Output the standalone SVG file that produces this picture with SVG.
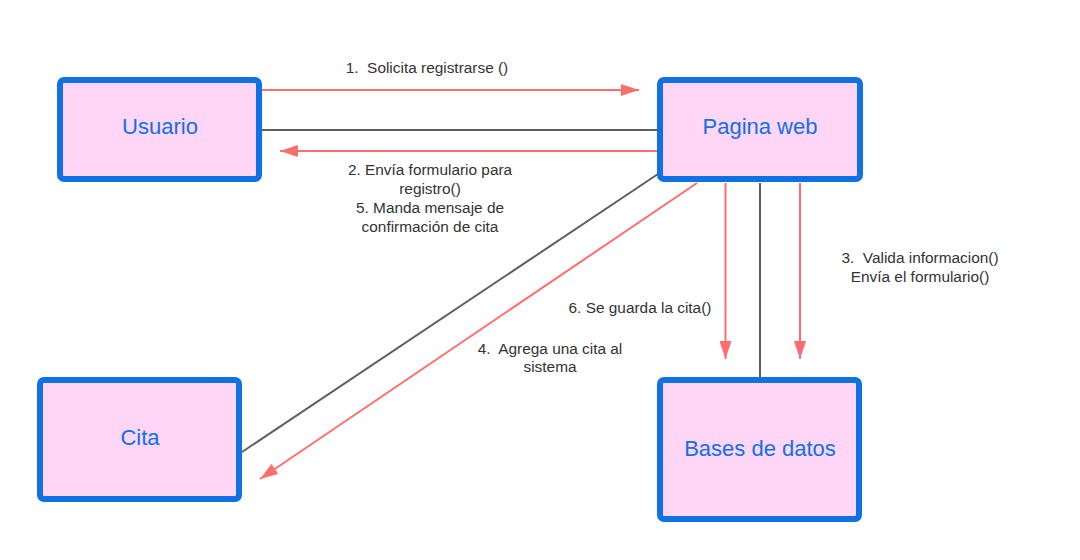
<svg xmlns="http://www.w3.org/2000/svg" width="1080" height="560" viewBox="0 0 1080 560">
<style>
.box{fill:#ffd6f6;stroke:#1071e5;stroke-width:6}
.nt{font-family:"Liberation Sans",Arial,sans-serif;font-size:22px;fill:#1071e5;text-anchor:middle}
.lb{font-family:"Liberation Sans",Arial,sans-serif;font-size:15.4px;fill:#333333;text-anchor:middle}
.red{stroke:#ff6d6d;stroke-width:2;fill:none}
.blk{stroke:#5e5e5e;stroke-width:2;fill:none}
</style>
<defs>
<marker id="ahl" markerWidth="18" markerHeight="12" refX="18" refY="6" orient="auto" markerUnits="userSpaceOnUse" viewBox="0 0 18 12">
<path d="M0,0 L18,6 L0,12 Z" fill="#ff6d6d"/>
</marker>
</defs>
<rect width="1080" height="560" fill="#ffffff"/>
<g id="connectors">
<line class="red" x1="262" y1="90" x2="639" y2="90" marker-end="url(#ahl)"/>
<line class="blk" x1="262" y1="130" x2="657" y2="130"/>
<line class="red" x1="657" y1="151" x2="280" y2="151" marker-end="url(#ahl)"/>
<line class="blk" x1="658" y1="174" x2="242" y2="452"/>
<line class="red" x1="697" y1="183" x2="260" y2="479" marker-end="url(#ahl)"/>
<line class="red" x1="725.5" y1="183" x2="725.5" y2="359" marker-end="url(#ahl)"/>
<line class="blk" x1="760" y1="183" x2="760" y2="378"/>
<line class="red" x1="800" y1="183" x2="800" y2="359" marker-end="url(#ahl)"/>
</g>
<g id="labels">
<text class="lb" x="427" y="73" xml:space="preserve">1.  Solicita registrarse ()</text>
<text class="lb" x="430" y="175">2. Envía formulario para</text>
<text class="lb" x="430" y="194">registro()</text>
<text class="lb" x="430" y="213">5. Manda mensaje de</text>
<text class="lb" x="430" y="232">confirmación de cita</text>
<text class="lb" x="920" y="263" xml:space="preserve">3.  Valida informacion()</text>
<text class="lb" x="920" y="282">Envía el formulario()</text>
<text class="lb" x="640" y="313">6. Se guarda la cita()</text>
<text class="lb" x="550" y="354" xml:space="preserve">4.  Agrega una cita al</text>
<text class="lb" x="550" y="372">sistema</text>
</g>
<g id="usuario">
<rect class="box" x="60" y="80" width="199" height="99" rx="4"/>
<text class="nt" x="160" y="134">Usuario</text>
</g>
<g id="pagina-web">
<rect class="box" x="660" y="80" width="200" height="99" rx="4"/>
<text class="nt" x="760" y="134">Pagina web</text>
</g>
<g id="cita">
<rect class="box" x="40" y="380" width="199" height="119" rx="4"/>
<text class="nt" x="140" y="445">Cita</text>
</g>
<g id="bases-de-datos">
<rect class="box" x="660" y="380" width="199" height="139" rx="4"/>
<text class="nt" x="760" y="456">Bases de datos</text>
</g>
</svg>
